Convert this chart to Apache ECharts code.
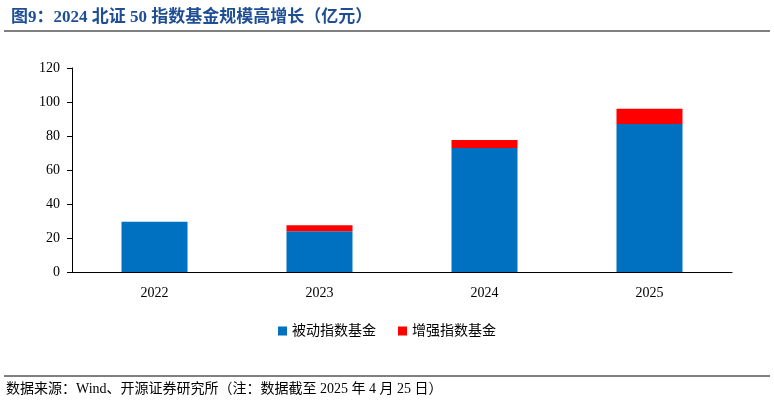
<!DOCTYPE html>
<html>
<head>
<meta charset="utf-8">
<script src="https://cdn.jsdelivr.net/npm/echarts@6/dist/echarts.min.js"></script>
<style>
  body { margin: 0; background: #fff; }
  #main { width: 774px; height: 405px; }
</style>
</head>
<body>
<div id="main"></div>
<script>
var years = ["2022", "2023", "2024", "2025"];
var passive = [29.5, 24, 73, 87];
var enhanced = [0, 3.5, 4.7, 9];
var yTicks = [0, 20, 40, 60, 80, 100, 120];

var chart = echarts.init(document.getElementById("main"));
var font = "'Liberation Serif', 'Noto Sans CJK SC', serif";
chart.setOption({
  animation: false,
  title: {
    text: "图9：2024 北证 50 指数基金规模高增长（亿元）",
    left: 6, top: 4,
    textStyle: { color: "#1f4e96", fontSize: 17, fontWeight: "bold", fontFamily: font }
  },
  graphic: [
    { type: "line", shape: { x1: 4, y1: 31, x2: 770, y2: 31 }, style: { stroke: "#000", lineWidth: 1 } },
    { type: "line", shape: { x1: 4, y1: 376, x2: 770, y2: 376 }, style: { stroke: "#000", lineWidth: 1 } },
    { type: "text", left: 6, top: 382,
      style: { text: "数据来源：Wind、开源证券研究所（注：数据截至 2025 年 4 月 25 日）", fill: "#000", fontSize: 14, fontFamily: font } }
  ],
  legend: {
    bottom: 62, left: "center", itemWidth: 9, itemHeight: 9, itemGap: 22,
    icon: "rect",
    textStyle: { fontSize: 14, fontFamily: font, color: "#000" },
    data: ["被动指数基金", "增强指数基金"]
  },
  grid: { left: 72, right: 42, top: 68, bottom: 133 },
  xAxis: {
    type: "category", data: years,
    axisLine: { lineStyle: { color: "#000" } },
    axisTick: { show: false },
    axisLabel: { color: "#000", fontSize: 14, fontFamily: font, margin: 14 }
  },
  yAxis: {
    type: "value", min: yTicks[0], max: yTicks[yTicks.length - 1], interval: 20,
    axisLine: { show: true, lineStyle: { color: "#000" } },
    axisTick: { show: true, lineStyle: { color: "#000" } },
    splitLine: { show: false },
    axisLabel: { color: "#000", fontSize: 14, fontFamily: font, margin: 12 }
  },
  series: [
    { name: "被动指数基金", type: "bar", stack: "t", data: passive, barWidth: "40%",
      itemStyle: { color: "#0070c0" } },
    { name: "增强指数基金", type: "bar", stack: "t", data: enhanced,
      itemStyle: { color: "#ff0000" } }
  ]
});
</script>
</body>
</html>
